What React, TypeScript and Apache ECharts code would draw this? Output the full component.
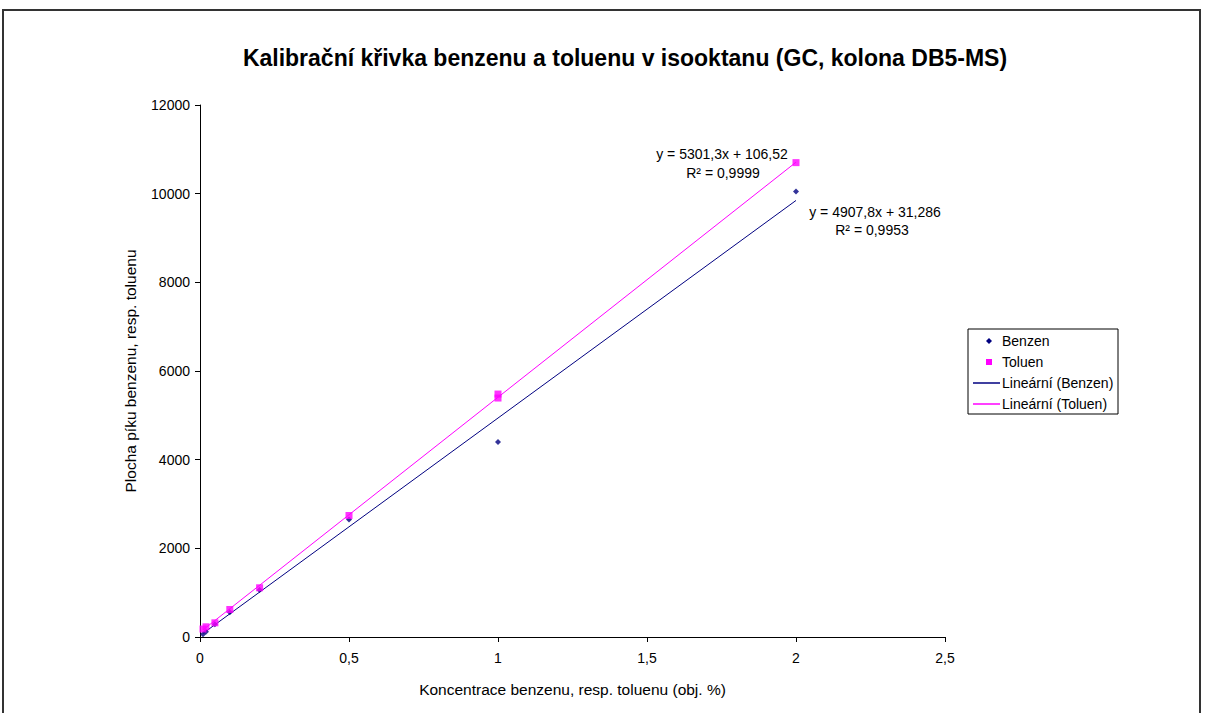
import React, { useEffect, useRef } from "react";
import * as echarts from "echarts";

// Calibration points: concentration (% v/v) and peak area
const benzenX = [0.01, 0.02, 0.05, 0.1, 0.2, 0.5, 1, 2];
const benzenY = [60, 120, 290, 560, 1060, 2650, 4400, 10050];
const toluenX = [0.01, 0.02, 0.05, 0.1, 0.2, 0.5, 1, 1, 2];
const toluenY = [180, 230, 320, 620, 1110, 2740, 5390, 5480, 10700];

// Linear regression results (slope, intercept, R²)
const benzenFit = { slope: 4907.8, intercept: 31.286, r2: "0,9953" };
const toluenFit = { slope: 5301.3, intercept: 106.52, r2: "0,9999" };

const xTicks = [0, 0.5, 1, 1.5, 2, 2.5];
const yTicks = [0, 2000, 4000, 6000, 8000, 10000, 12000];

const title = "Kalibrační křivka benzenu a toluenu v isooktanu (GC, kolona DB5-MS)";
const xName = "Koncentrace benzenu, resp. toluenu (obj. %)";
const yName = "Plocha píku benzenu, resp. toluenu";
const legendNames = ["Benzen", "Toluen", "Lineární (Benzen)", "Lineární (Toluen)"];

const NAVY = "#000080";
const MAGENTA = "#FF00FF";
const FONT = "Liberation Sans";

const fmt = (v: number) => String(v).replace(".", ",");

function trend(xs: number[], fit: { slope: number; intercept: number }) {
  const lo = Math.min(...xs);
  const hi = Math.max(...xs);
  return [lo, hi].map((x) => [x, fit.slope * x + fit.intercept]);
}

export default function App() {
  const ref = useRef<HTMLDivElement>(null);

  useEffect(() => {
    if (!ref.current) return;
    const chart = echarts.init(ref.current, undefined, { renderer: "svg" });

    const legendX = 968;
    const legendRows = [341, 362, 383, 404];

    const legendGraphics: any[] = [
      {
        type: "rect",
        shape: { x: legendX, y: 329, width: 150, height: 85 },
        style: { fill: "#fff", stroke: "#000", lineWidth: 1 },
      },
      {
        type: "polygon",
        shape: {
          points: [
            [989, legendRows[0] - 3],
            [992, legendRows[0]],
            [989, legendRows[0] + 3],
            [986, legendRows[0]],
          ],
        },
        style: { fill: NAVY },
      },
      {
        type: "rect",
        shape: { x: 986, y: legendRows[1] - 3, width: 6, height: 6 },
        style: { fill: MAGENTA },
      },
      {
        type: "line",
        shape: { x1: 973, y1: legendRows[2], x2: 1000, y2: legendRows[2] },
        style: { stroke: NAVY, lineWidth: 1.5 },
      },
      {
        type: "line",
        shape: { x1: 973, y1: legendRows[3], x2: 1000, y2: legendRows[3] },
        style: { stroke: MAGENTA, lineWidth: 1.5 },
      },
      ...legendNames.map((name, i) => ({
        type: "text",
        x: 1002,
        y: legendRows[i],
        style: {
          text: name,
          font: `14px "${FONT}"`,
          fill: "#000",
          textVerticalAlign: "middle",
          textAlign: "left",
        },
      })),
    ];

    const eqText = (x: number, y: number, text: string) => ({
      type: "text",
      x,
      y,
      style: {
        text,
        font: `14px "${FONT}"`,
        fill: "#000",
        textAlign: "center",
        textVerticalAlign: "middle",
      },
    });

    chart.setOption({
      animation: false,
      backgroundColor: "#fff",
      title: {
        text: title,
        left: 620,
        top: 41,
        textAlign: "center",
        textStyle: { fontFamily: FONT, fontSize: 23, fontWeight: "bold", color: "#000" },
      },
      grid: { left: 200, right: 261, top: 105, bottom: 76, containLabel: false },
      xAxis: {
        type: "value",
        min: xTicks[0],
        max: xTicks[xTicks.length - 1],
        interval: 0.5,
        name: xName,
        nameLocation: "middle",
        nameGap: 44,
        nameTextStyle: { fontFamily: FONT, fontSize: 15.5, color: "#000" },
        axisLine: { show: true, onZero: false, lineStyle: { color: "#000", width: 1 } },
        axisTick: { show: true, inside: false, length: 5, lineStyle: { color: "#000" } },
        axisLabel: {
          margin: 14,
          fontFamily: FONT,
          fontSize: 14,
          color: "#000",
          formatter: (v: number) => fmt(v),
        },
        splitLine: { show: false },
      },
      yAxis: {
        type: "value",
        min: yTicks[0],
        max: yTicks[yTicks.length - 1],
        interval: 2000,
        name: yName,
        nameLocation: "middle",
        nameGap: 62,
        nameTextStyle: { fontFamily: FONT, fontSize: 15.5, color: "#000" },
        axisLine: { show: true, lineStyle: { color: "#000", width: 1 } },
        axisTick: { show: true, inside: false, length: 5, lineStyle: { color: "#000" } },
        axisLabel: {
          margin: 10,
          fontFamily: FONT,
          fontSize: 14,
          color: "#000",
          formatter: (v: number) => String(v),
        },
        splitLine: { show: false },
      },
      series: [
        {
          name: legendNames[2],
          type: "line",
          data: trend(benzenX, benzenFit),
          showSymbol: false,
          symbol: "none",
          lineStyle: { color: NAVY, width: 1 },
          z: 2,
        },
        {
          name: legendNames[3],
          type: "line",
          data: trend(toluenX, toluenFit),
          showSymbol: false,
          symbol: "none",
          lineStyle: { color: MAGENTA, width: 1 },
          z: 2,
        },
        {
          name: legendNames[0],
          type: "scatter",
          data: benzenX.map((x, i) => [x, benzenY[i]]),
          symbol: "diamond",
          symbolSize: 6,
          itemStyle: { color: NAVY },
          z: 3,
        },
        {
          name: legendNames[1],
          type: "scatter",
          data: toluenX.map((x, i) => [x, toluenY[i]]),
          symbol: "rect",
          symbolSize: 7,
          itemStyle: { color: MAGENTA },
          z: 3,
        },
      ],
      graphic: [
        {
          type: "rect",
          shape: { x: 3, y: 10, width: 1197, height: 720 },
          style: { fill: "none", stroke: "#333", lineWidth: 2 },
          silent: true,
        },
        eqText(722, 154, `y = ${fmt(toluenFit.slope)}x + ${fmt(toluenFit.intercept)}`),
        eqText(723, 173, `R² = ${toluenFit.r2}`),
        eqText(875, 212, `y = ${fmt(benzenFit.slope)}x + ${fmt(benzenFit.intercept)}`),
        eqText(872, 230, `R² = ${benzenFit.r2}`),
        ...legendGraphics,
      ],
    });

    return () => chart.dispose();
  }, []);

  return (
    <div
      ref={ref}
      style={{ position: "fixed", left: 0, top: 0, width: 1206, height: 713, background: "#fff" }}
    />
  );
}
